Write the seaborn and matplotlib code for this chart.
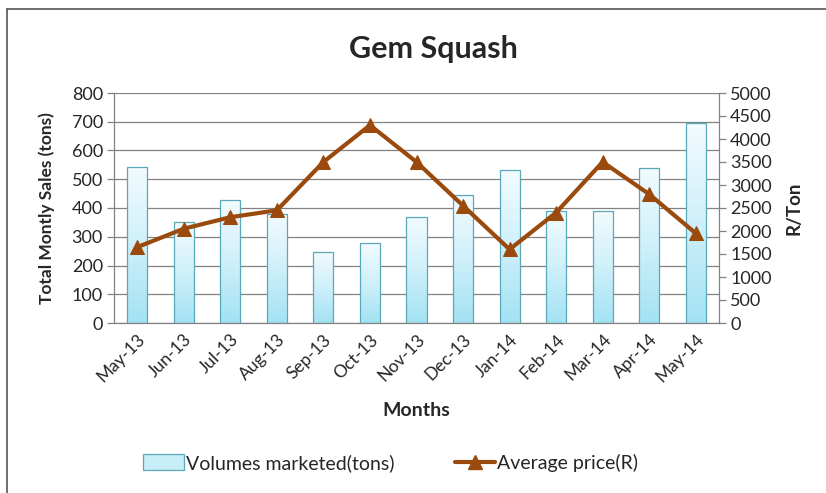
import numpy as np
import pandas as pd
import matplotlib
matplotlib.use("Agg")
import matplotlib.pyplot as plt
from matplotlib.lines import Line2D
from matplotlib.patches import Patch
from matplotlib.colors import LinearSegmentedColormap
import seaborn as sns

months = ["May-13", "Jun-13", "Jul-13", "Aug-13", "Sep-13", "Oct-13", "Nov-13",
          "Dec-13", "Jan-14", "Feb-14", "Mar-14", "Apr-14", "May-14"]
volumes = [543, 351, 428, 380, 247, 278, 369, 445, 532, 390, 390, 539, 696]
prices = [1650, 2050, 2300, 2450, 3500, 4300, 3500, 2550, 1600, 2400, 3500, 2800, 1950]
left_ticks = [0, 100, 200, 300, 400, 500, 600, 700, 800]
right_ticks = [0, 500, 1000, 1500, 2000, 2500, 3000, 3500, 4000, 4500, 5000]

sns.set_theme(style="white")
plt.rcParams["font.family"] = ["Lato", "DejaVu Sans"]

df = pd.DataFrame({"Month": months, "Volume": volumes, "Price": prices})

fig = plt.figure(figsize=(8.26, 4.93), dpi=100)
ax = fig.add_axes([114/826, 1-323/493, (719-114)/826, (323-93)/493])

sns.barplot(data=df, x="Month", y="Volume", ax=ax, color="#bfeaf6",
            width=0.43, edgecolor="#5aa9b8", linewidth=0.9, zorder=2)

grad = np.linspace(0, 1, 256).reshape(-1, 1)
cmap = LinearSegmentedColormap.from_list("g", ["#a3e2f3", "#cff0fa", "#f3fbfe"])
for p in ax.patches:
    x0, y0 = p.get_x(), p.get_y()
    w, h = p.get_width(), p.get_height()
    im = ax.imshow(grad, extent=[x0, x0 + w, y0, y0 + h], origin="lower",
                   cmap=cmap, aspect="auto", zorder=2.1)
    im.set_clip_path(p)
    p.set_facecolor("none")
    p.set_zorder(2.2)

ax.set_xlim(-0.5, len(months) - 0.5)
ax.set_ylim(0, 800)
ax.set_yticks(left_ticks)
ax.yaxis.grid(True, color="#828282", linewidth=0.9, zorder=0)
ax.set_axisbelow(True)
for s in ["top", "right"]:
    ax.spines[s].set_visible(False)
for s in ["left", "bottom"]:
    ax.spines[s].set_color("#828282")
    ax.spines[s].set_linewidth(0.9)

ax.set_xticks(range(len(months)))
ax.set_xticklabels(months, rotation=45, ha="right", rotation_mode="anchor", fontsize=12.5)
ax.tick_params(axis="x", length=0, pad=6)
ax.set_xticks(np.arange(-0.5, len(months), 1), minor=True)
ax.tick_params(axis="x", which="minor", length=5, color="#828282", width=0.9, direction="out")
ax.tick_params(axis="y", length=5, color="#828282", width=0.9, labelsize=13, pad=3, left=True)
ax.set_xlabel("Months", fontsize=14, fontweight="bold", labelpad=12)
ax.set_ylabel("Total Montly Sales (tons)", fontsize=12.5, fontweight="bold", labelpad=12)

ax2 = ax.twinx()
sns.lineplot(data=df, x="Month", y="Price", ax=ax2, color="#9a4a0c", linewidth=3,
             marker="^", markersize=10, markeredgecolor="#9a4a0c", zorder=5, sort=False)
ax2.set_ylim(0, 5000)
ax2.set_yticks(right_ticks)
ax2.set_xlim(-0.5, len(months) - 0.5)
for s in ["top", "left", "bottom"]:
    ax2.spines[s].set_visible(False)
ax2.spines["right"].set_color("#828282")
ax2.spines["right"].set_linewidth(0.9)
ax2.tick_params(axis="y", length=5, color="#828282", width=0.9, labelsize=13, pad=3, right=True)
ax2.set_ylabel("R/Ton", fontsize=13.5, fontweight="bold", labelpad=10)
ax2.grid(False)

fig.text(0.525, 1 - 49/493, "Gem Squash", ha="center", va="center",
         fontsize=22, fontweight="bold")

handles = [Patch(facecolor="#c6edf8", edgecolor="#5aa9b8", linewidth=0.9),
           Line2D([0], [0], color="#9a4a0c", linewidth=3, marker="^", markersize=10)]
fig.legend(handles, ["Volumes marketed(tons)", "Average price(R)"],
           loc="center", bbox_to_anchor=(0.473, 1 - 463/493), ncol=2, frameon=False,
           fontsize=14, handlelength=2.1, handleheight=0.9, handletextpad=0.1, columnspacing=3.1)

fig.add_artist(Line2D([7/826, 1], [1 - 9/493, 1 - 9/493], transform=fig.transFigure,
                      color="#555555", linewidth=1.2))
fig.add_artist(Line2D([7/826, 7/826], [0, 1 - 9/493], transform=fig.transFigure,
                      color="#555555", linewidth=1.2))

fig.savefig("out.png", dpi=100)
